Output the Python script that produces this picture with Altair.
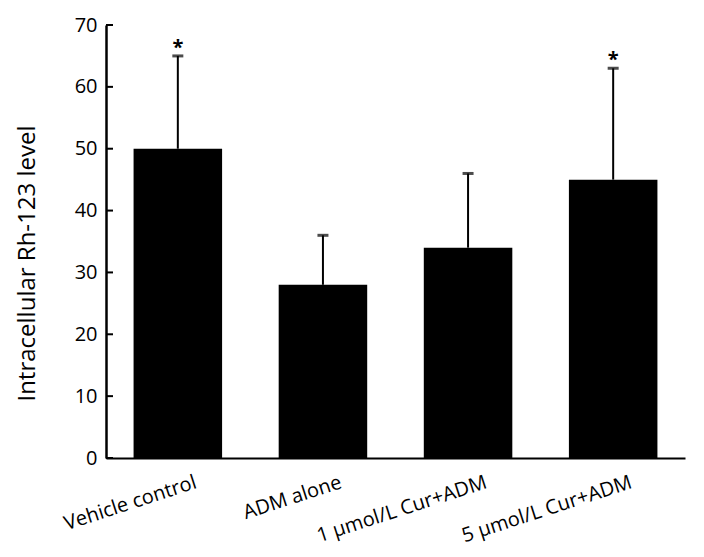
import altair as alt
import pandas as pd

categories = ["Vehicle control", "ADM alone", "1 μmol/L Cur+ADM", "5 μmol/L Cur+ADM"]
means = [50, 28, 34, 45]
upper = [65, 36, 46, 63]
stars = ["*", "", "", "*"]
y_ticks = [0, 10, 20, 30, 40, 50, 60, 70]

df = pd.DataFrame({"group": categories, "mean": means, "upper": upper, "star": stars})
tick_df = pd.DataFrame({"t": y_ticks})

FONT = "Open Sans"

x = alt.X(
    "group:N",
    sort=categories,
    title=None,
    scale=alt.Scale(paddingInner=0.39, paddingOuter=0.19),
    axis=alt.Axis(
        labelAngle=-18,
        labelAlign="right",
        labelBaseline="top",
        labelOffset=15,
        labelPadding=14,
        labelFontSize=20,
        labelFont=FONT,
        labelColor="black",
        ticks=False,
        tickSize=0,
        domainColor="black",
        domainWidth=2,
    ),
)

y = alt.Y(
    "mean:Q",
    title="Intracellular Rh-123 level",
    scale=alt.Scale(domain=[0, 70], nice=False),
    axis=alt.Axis(
        values=y_ticks,
        ticks=False,
        tickSize=0,
        grid=False,
        labelFontSize=20,
        labelFont=FONT,
        labelColor="black",
        labelPadding=9,
        titleFontSize=24,
        titleFont=FONT,
        titleFontWeight="normal",
        titleColor="black",
        titlePadding=35,
        titleY=238,
        domainColor="black",
        domainWidth=2.5,
    ),
)

bars = alt.Chart(df).mark_bar(color="black").encode(x=x, y=y)

stems = alt.Chart(df).mark_rule(color="black", strokeWidth=2).encode(
    x=alt.X("group:N", sort=categories), y="mean:Q", y2="upper:Q"
)

caps = alt.Chart(df).mark_tick(color="black", thickness=3, size=11).encode(
    x=alt.X("group:N", sort=categories), y="upper:Q"
)

star_text = alt.Chart(df).mark_text(
    fontSize=20, fontWeight="bold", font=FONT, baseline="bottom", dy=2, color="black"
).encode(
    x=alt.X("group:N", sort=categories), y="upper:Q", text="star:N"
)

yticks = alt.Chart(tick_df).mark_rule(color="black", strokeWidth=2).encode(
    y="t:Q", x=alt.value(0), x2=alt.value(7)
)

chart = (
    alt.layer(bars, stems, caps, star_text, yticks)
    .properties(
        width=579,
        height=433,
        padding={"left": 98, "top": 17, "right": 11, "bottom": 90},
        autosize=alt.AutoSizeParams(type="none"),
        background="white",
    )
    .configure_view(stroke=None)
)

chart.save("out.html", embed_options={"renderer": "svg", "actions": False})
